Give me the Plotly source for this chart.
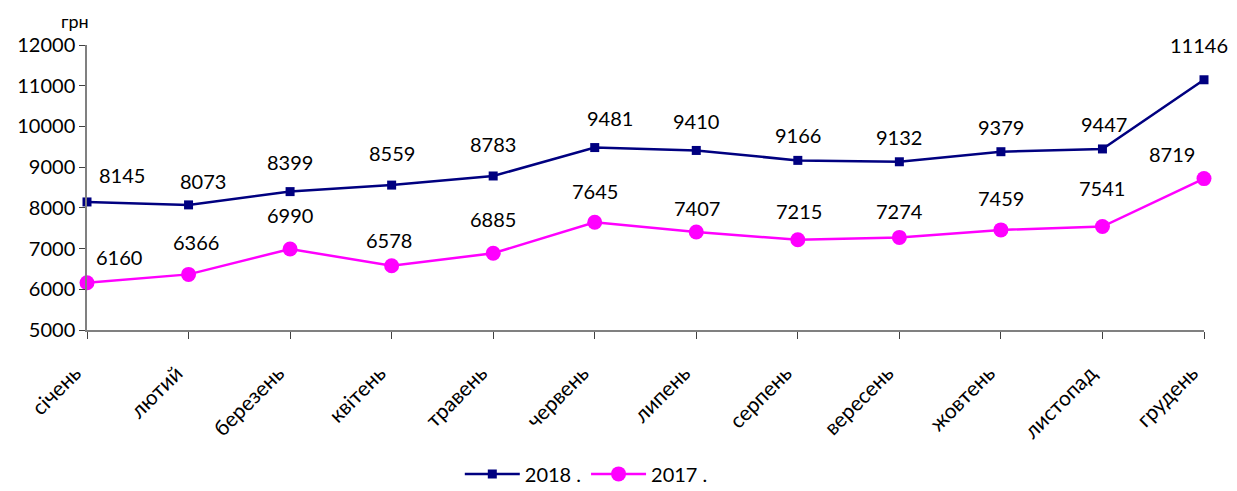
import plotly.graph_objects as go

months = ["січень", "лютий", "березень", "квітень", "травень", "червень",
          "липень", "серпень", "вересень", "жовтень", "листопад", "грудень"]
values_2018 = [8145, 8073, 8399, 8559, 8783, 9481, 9410, 9166, 9132, 9379, 9447, 11146]
values_2017 = [6160, 6366, 6990, 6578, 6885, 7645, 7407, 7215, 7274, 7459, 7541, 8719]
y_ticks = [5000, 6000, 7000, 8000, 9000, 10000, 11000, 12000]
y_tick_labels = ["5000", "6000", "7000", "8000", "9000", "10000", "11000", "12000"]

# label offsets (styling) in pixels
dx_2018 = [35, 14, 0, 0, 0, 15, 0, 0, 0, 0, 2, -5]
dy_2018 = [27, 24, 30, 32, 32, 30, 29, 25, 25, 25, 25, 35]
dx_2017 = [32, 7, 0, -3, 0, 0, 1, 1, 0, 0, 0, -32]
dy_2017 = [26, 32, 34, 26, 34, 31, 24, 29, 26, 32, 39, 25]

FONT = "Lato, 'Open Sans', sans-serif"
x = list(range(len(months)))

fig = go.Figure()
fig.add_trace(go.Scatter(
    x=x, y=values_2018, mode="lines+markers", name="2018 .",
    line=dict(color="#000080", width=2.5),
    marker=dict(symbol="square", size=9, color="#000080"),
    cliponaxis=False,
))
fig.add_trace(go.Scatter(
    x=x, y=values_2017, mode="lines+markers", name="2017 .",
    line=dict(color="#FF00FF", width=2.5),
    marker=dict(symbol="circle", size=15, color="#FF00FF"),
    cliponaxis=False,
))

annotations = []
for i in x:
    annotations.append(dict(x=i, y=values_2018[i], text=str(values_2018[i]),
                            showarrow=False, xshift=dx_2018[i], yshift=dy_2018[i],
                            font=dict(family=FONT, size=20, color="black")))
    annotations.append(dict(x=i, y=values_2017[i], text=str(values_2017[i]),
                            showarrow=False, xshift=dx_2017[i], yshift=dy_2017[i],
                            font=dict(family=FONT, size=20, color="black")))
annotations.append(dict(xref="paper", yref="paper", x=0.004, y=1.085,
                        xanchor="right", yanchor="middle", text="грн", showarrow=False,
                        font=dict(family=FONT, size=18, color="black")))

# the page body has an 8px margin, so the figure is drawn 8px in from the top-left
fig.update_layout(
    width=1229, height=483,
    margin=dict(l=79, r=33, t=37, b=161, autoexpand=False),
    paper_bgcolor="white", plot_bgcolor="white",
    font=dict(family=FONT, size=20, color="black"),
    showlegend=True,
    legend=dict(orientation="h", x=0.447, xanchor="center", y=-0.505, yanchor="middle",
                font=dict(family=FONT, size=20, color="black"),
                itemwidth=55, tracegroupgap=0),
    annotations=annotations,
)
fig.update_xaxes(
    range=[0, len(months) - 1], tickmode="array", tickvals=x, ticktext=months,
    tickangle=-45, showgrid=False, zeroline=False, automargin=False,
    showline=True, linecolor="#808080", linewidth=1.5,
    ticks="outside", ticklen=7, tickcolor="#404040",
    ticklabelstandoff=14, ticklabelshift=-12,
    tickfont=dict(family=FONT, size=21, color="black"),
)
fig.update_yaxes(
    range=[5000, 12000], tickmode="array", tickvals=y_ticks, ticktext=y_tick_labels,
    showgrid=False, zeroline=False, automargin=False,
    showline=True, linecolor="#808080", linewidth=1.5,
    ticks="outside", ticklen=6, tickcolor="#404040",
    tickfont=dict(family=FONT, size=20, color="black"),
)

fig.write_html("out.html")
